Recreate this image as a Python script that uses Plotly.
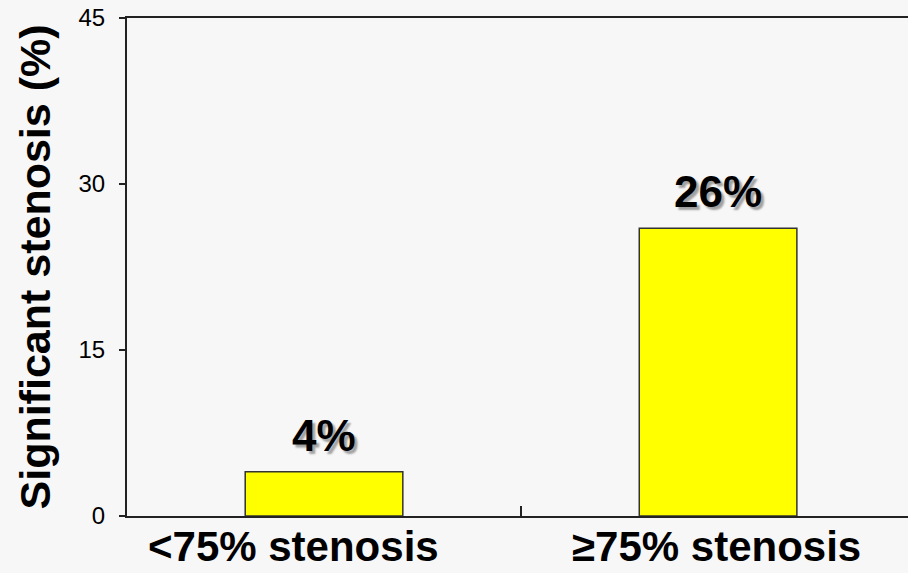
import plotly.graph_objects as go

# Stenosis groups and percentage with significant stenosis
categories = ["<75% stenosis", "\u226575% stenosis"]
values = [4, 26]
y_ticks = [0, 15, 30, 45]
label_shift = [-31, -2]  # horizontal nudge of the category captions

FONT = "Arial, Liberation Sans, sans-serif"
BG = "#f7f7f7"

fig = go.Figure()
fig.add_trace(go.Bar(
    x=categories,
    y=values,
    width=0.4,
    marker=dict(color="#ffff00", line=dict(color="#333333", width=1.5)),
    hoverinfo="skip",
))

# value labels above each bar, with a soft drop shadow
for cat, v in zip(categories, values):
    fig.add_annotation(
        x=cat, y=v, text=f"<b>{v}%</b>", showarrow=False,
        yanchor="bottom", yshift=10,
        font=dict(family=FONT, size=44, color="black",
                  shadow="3px 3px 2px #a0a0a0"),
    )

# category captions under the axis
for cat, dx in zip(categories, label_shift):
    fig.add_annotation(
        x=cat, y=0, yref="paper", text=f"<b>{cat}</b>", showarrow=False,
        yanchor="bottom", yshift=-56, xshift=dx,
        font=dict(family=FONT, size=42, color="black"),
    )

fig.update_layout(
    width=908, height=573,
    margin=dict(l=127, r=0, t=18, b=57),
    paper_bgcolor=BG, plot_bgcolor=BG,
    showlegend=False,
    bargap=0.6,
    font=dict(family=FONT, color="black"),
)

fig.update_xaxes(
    type="category",
    range=[-0.5, 1.482],
    automargin=False,
    showline=True, linecolor="#222222", linewidth=2, mirror=True,
    ticks="inside", ticklen=10, tickwidth=2, tickcolor="#222222",
    tickson="boundaries",
    showticklabels=False,
    showgrid=False, zeroline=False,
)

fig.update_yaxes(
    range=[0, 45],
    automargin=False,
    tickvals=y_ticks,
    ticktext=[str(t) for t in y_ticks],
    showline=True, linecolor="#222222", linewidth=2,
    ticks="outside", ticklen=6, tickwidth=1.5, tickcolor="#222222",
    tickfont=dict(family=FONT, size=24, color="black"),
    ticklabelstandoff=9,
    showgrid=False, zeroline=False,
    title=dict(text="<b>Significant stenosis (%)</b>", standoff=14,
               font=dict(family=FONT, size=43, color="black")),
)

fig.write_html("out.html")
